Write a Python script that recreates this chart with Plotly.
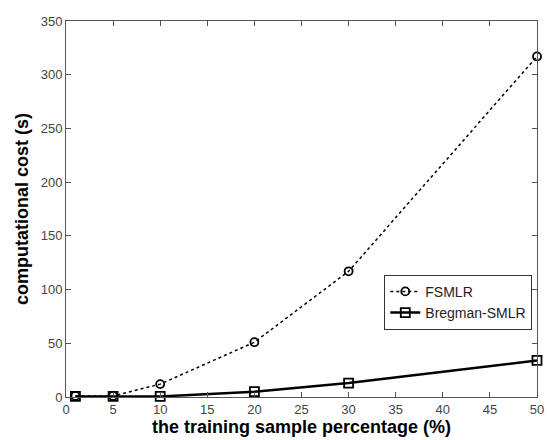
import plotly.graph_objects as go

x_pct = [1, 5, 10, 20, 30, 50]
fsmlr = [1, 1, 12, 51, 117, 317]
bregman = [0.5, 0.5, 0.5, 5, 13, 34]

fig = go.Figure()
fig.add_trace(go.Scatter(
    x=x_pct, y=fsmlr, name="FSMLR", mode="lines+markers",
    line=dict(color="black", width=1.5, dash="dot"),
    marker=dict(symbol="circle-open", size=8, color="black", line=dict(width=1.8)),
    cliponaxis=False))
fig.add_trace(go.Scatter(
    x=x_pct, y=bregman, name="Bregman-SMLR", mode="lines+markers",
    line=dict(color="black", width=2.5),
    marker=dict(symbol="square-open", size=9, color="black", line=dict(width=1.8)),
    cliponaxis=False))

axis_common = dict(
    showgrid=False, zeroline=False, showline=True, mirror="ticks",
    linecolor="#555555", linewidth=1, ticks="inside", ticklen=5,
    tickcolor="#555555", ticklabeloverflow="allow",
    tickfont=dict(family="Liberation Sans, Arial", size=13, color="#444444"),
)
fig.update_layout(
    width=547, height=440,
    margin=dict(l=66, r=3, t=21, b=43),
    paper_bgcolor="white", plot_bgcolor="white",
    showlegend=True,
    legend=dict(x=0.99, y=0.325, xanchor="right", yanchor="top",
                bordercolor="#333333", borderwidth=1, bgcolor="white",
                font=dict(family="Liberation Sans, Arial", size=14, color="#222222"),
                tracegroupgap=0, itemwidth=30),
    xaxis=dict(range=[0, 50], tickvals=list(range(0, 55, 5)),
               title=dict(text="<b>the training sample percentage (%)</b>", standoff=2,
                          font=dict(family="Liberation Sans, Arial", size=18, color="black")),
               **axis_common),
    yaxis=dict(range=[0, 350], tickvals=list(range(0, 400, 50)),
               title=dict(text="<b>computational cost (s)</b>", standoff=7,
                          font=dict(family="Liberation Sans, Arial", size=18, color="black")),
               **axis_common),
)
fig.write_html("out.html", config={"displayModeBar": False},
               post_script="document.body.style.margin='0';document.body.style.overflow='hidden';")
